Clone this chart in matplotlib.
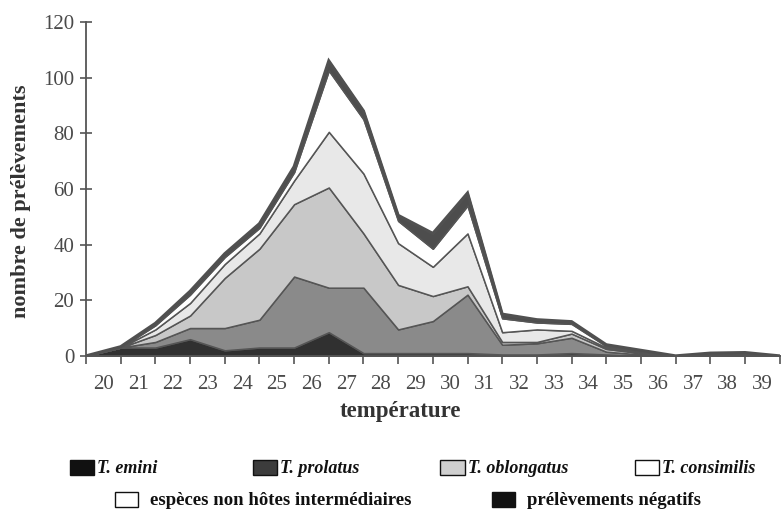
import matplotlib
matplotlib.use("Agg")
import matplotlib.pyplot as plt
from matplotlib.patches import Rectangle
import numpy as np

plt.rcParams['font.family'] = ['Liberation Serif', 'DejaVu Serif']

# point positions (temperature class boundaries) and class labels
temp_edges = list(range(20, 41))
temp_labels = [str(t) for t in range(20, 40)]

# stacked series, bottom to top
t_emini = [0, 3, 3, 6, 2, 3, 3, 8.5, 1, 1, 1, 1, 0.5, 0.5, 1, 0.5, 0, 0, 0, 0, 0]
t_prolatus = [0, 0, 2, 4, 8, 10, 25.5, 16, 23.5, 8.5, 11.5, 21, 3.5, 4, 5.5, 1, 0.5, 0, 0, 0, 0]
t_oblongatus = [0, 0, 2.5, 4.5, 18, 25.5, 26, 36, 19.5, 16, 9, 3, 1, 0.5, 1.5, 1, 0.5, 0, 0.3, 0.3, 0]
t_consimilis = [0, 0, 2, 4.5, 5, 5.5, 8.5, 20, 21.5, 15, 10.5, 19, 3.5, 4.5, 1, 0.5, 0, 0, 0.2, 0.2, 0]
non_hotes = [0, 0, 1.5, 3, 2.5, 2, 3, 22, 19.5, 8, 6.5, 10, 5, 2.5, 2.5, 0.5, 0.5, 0, 0, 0.5, 0]
negatifs = [0, 0.3, 0.7, 1.2, 1.2, 1.5, 2, 3.5, 3, 2, 5.5, 4.5, 1.5, 1, 0.8, 0.5, 0.5, 0, 0.5, 0.2, 0]

y_ticks = [0, 20, 40, 60, 80, 100, 120]

layer_colors = ['#303030', '#8a8a8a', '#c8c8c8', '#e8e8e8', '#ffffff', '#4d4d4d']
edge = '#555555'
text_grey = '#4a4a4a'

fig = plt.figure(figsize=(7.82, 5.15), dpi=100)
ax = fig.add_axes([0.110, 0.309, 0.887, 0.6485])

series = [t_emini, t_prolatus, t_oblongatus, t_consimilis, non_hotes, negatifs]
ax.stackplot(temp_edges, *series, colors=layer_colors,
             edgecolor=edge, linewidth=1.1)
top = np.sum(np.array(series), axis=0)
ax.plot(temp_edges, top, color='#505050', lw=2.2, solid_joinstyle='miter')

ax.set_xlim(20, 40)
ax.set_ylim(0, 120)

for s in ['top', 'right']:
    ax.spines[s].set_visible(False)
for s in ['left', 'bottom']:
    ax.spines[s].set_color(edge)
    ax.spines[s].set_linewidth(1.3)

ax.set_yticks(y_ticks)
ax.tick_params(axis='y', direction='inout', length=9, width=1.2, color=edge,
               labelsize=15, labelcolor=text_grey, pad=4)

ax.set_xticks(temp_edges)
ax.set_xticklabels([])
ax.set_xticks([t + 0.5 for t in range(20, 40)], minor=True)
ax.set_xticklabels(temp_labels, minor=True)
ax.tick_params(axis='x', which='major', direction='out', length=6, width=1.2, color=edge)
ax.tick_params(axis='x', which='minor', length=0, labelsize=15, labelcolor=text_grey, pad=14)

ax.set_xlabel('température', fontsize=16.5, fontweight='bold', color='#333333')
ax.xaxis.set_label_coords(0.453, -0.135)
ax.set_ylabel('nombre de prélèvements', fontsize=16, fontweight='bold', color='#333333')
ax.yaxis.set_label_coords(-0.080, 0.464)

# legend drawn by hand, two rows
row1 = [('T. emini', '#111111', 0.089), ('T. prolatus', '#3c3c3c', 0.323),
        ('T. oblongatus', '#cfcfcf', 0.563), ('T. consimilis', '#ffffff', 0.812)]
row2 = [('espèces non hôtes intermédiaires', '#ffffff', 0.147),
        ('prélèvements négatifs', '#111111', 0.629)]

for label, col, x0 in row1:
    fig.patches.append(Rectangle((x0, 0.077), 0.031, 0.030, transform=fig.transFigure,
                                 facecolor=col, edgecolor='#111111', lw=1.0))
    fig.text(x0 + 0.035, 0.091, label, fontsize=13, fontweight='bold',
             fontstyle='italic', va='center', ha='left', color='#111111')

for label, col, x0 in row2:
    fig.patches.append(Rectangle((x0, 0.015), 0.029, 0.030, transform=fig.transFigure,
                                 facecolor=col, edgecolor='#111111', lw=1.0))
    fig.text(x0 + 0.045, 0.029, label, fontsize=13.5, fontweight='bold',
             va='center', ha='left', color='#111111')

fig.savefig('out.png', dpi=100, facecolor='white')
